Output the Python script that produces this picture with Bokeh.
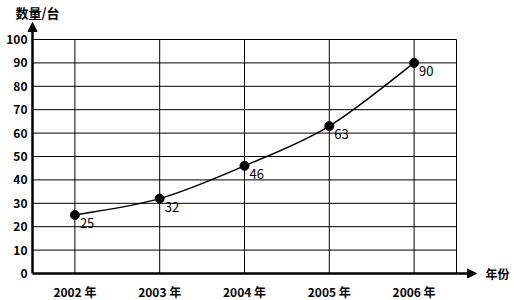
from bokeh.plotting import figure
from bokeh.models import Range1d, Arrow, NormalHead, Label, ColumnDataSource
from bokeh.core.properties import value
from bokeh.embed import file_html
from bokeh.resources import INLINE

years = ["2002 年", "2003 年", "2004 年", "2005 年", "2006 年"]
counts = [25, 32, 46, 63, 90]
y_ticks = [0, 10, 20, 30, 40, 50, 60, 70, 80, 90, 100]
y_title = "数量/台"
x_title = "年份"

FONT = "Noto Sans CJK SC"
xs = list(range(len(years)))
x_lo, x_hi = -0.5, len(years) - 0.5
y_lo, y_hi = y_ticks[0], y_ticks[-1]

# full-canvas frame; plot origin at (32px, 273px); 84.8 px per category, 2.34 px per unit
W, H = 514, 300
left, bottom = 32, 27
px_x = 84.8
px_y = 2.34
p = figure(width=W, height=H, output_backend="svg", toolbar_location=None,
           x_range=Range1d(x_lo - left / px_x, x_lo + (W - left) / px_x),
           y_range=Range1d(y_lo - bottom / px_y, y_lo + (H - bottom) / px_y),
           min_border=0)
p.background_fill_color = "white"
p.border_fill_color = "white"
p.outline_line_color = None
p.xgrid.visible = False
p.ygrid.visible = False
p.xaxis.visible = False
p.yaxis.visible = False

# grid lines (from tick arrays)
hy = [t for t in y_ticks if t > y_lo]
p.segment(x0=[x_lo] * len(hy), y0=hy, x1=[x_hi] * len(hy), y1=hy,
          line_color="black", line_width=1)
vx = xs + [x_hi]
p.segment(x0=vx, y0=[y_lo] * len(vx), x1=vx, y1=[y_hi] * len(vx),
          line_color="black", line_width=1)

# tick labels
p.text(x=xs, y=[y_lo] * len(xs), text=years, x_offset=0, y_offset=18,
       text_font=value(FONT), text_font_size="12px", text_font_style="bold",
       text_align="center", text_baseline="middle", text_color="black")
p.text(x=[x_lo] * len(y_ticks), y=y_ticks, text=[str(t) for t in y_ticks],
       x_offset=-5, y_offset=0,
       text_font=value(FONT), text_font_size="12px", text_font_style="bold",
       text_align="right", text_baseline="middle", text_color="black")

# axis arrows
p.add_layout(Arrow(end=NormalHead(size=9, fill_color="black", line_color="black", line_width=1),
                   x_start=x_lo, y_start=y_lo, x_end=x_lo, y_end=y_hi + 17 / px_y,
                   line_width=2.5, line_color="black"))
p.add_layout(Arrow(end=NormalHead(size=9, fill_color="black", line_color="black", line_width=1),
                   x_start=x_lo, y_start=y_lo, x_end=x_hi + 20 / px_x, y_end=y_lo,
                   line_width=2.5, line_color="black"))

# smooth line through points (Catmull-Rom -> cubic bezier)
pts = list(zip(xs, counts))
x0s, y0s, x1s, y1s, cx0, cy0, cx1, cy1 = [], [], [], [], [], [], [], []
n = len(pts)
for i in range(n - 1):
    pa = pts[max(i - 1, 0)]
    pb = pts[i]
    pc = pts[i + 1]
    pd = pts[min(i + 2, n - 1)]
    x0s.append(pb[0]); y0s.append(pb[1])
    x1s.append(pc[0]); y1s.append(pc[1])
    cx0.append(pb[0] + (pc[0] - pa[0]) / 6); cy0.append(pb[1] + (pc[1] - pa[1]) / 6)
    cx1.append(pc[0] - (pd[0] - pb[0]) / 6); cy1.append(pc[1] - (pd[1] - pb[1]) / 6)
p.bezier(x0=x0s, y0=y0s, x1=x1s, y1=y1s, cx0=cx0, cy0=cy0, cx1=cx1, cy1=cy1,
         line_color="black", line_width=1.5)

src = ColumnDataSource(dict(x=xs, y=counts, lbl=[str(c) for c in counts]))
p.scatter("x", "y", source=src, size=9, fill_color="black", line_color="black")
p.text("x", "y", text="lbl", source=src, x_offset=5, y_offset=3,
       text_font=value(FONT), text_font_size="13px", text_baseline="top",
       text_align="left", text_color="black")

# axis titles
p.add_layout(Label(x=x_lo, y=y_hi, x_offset=-17, y_offset=27, text=y_title,
                   text_font=FONT, text_font_size="13px", text_font_style="bold",
                   text_align="left", text_baseline="middle", text_color="black"))
p.add_layout(Label(x=x_hi, y=y_lo, x_offset=29, y_offset=0, text=x_title,
                   text_font=FONT, text_font_size="12px", text_font_style="bold",
                   text_align="left", text_baseline="middle", text_color="black"))

open("out.html", "w").write(file_html(p, INLINE))
